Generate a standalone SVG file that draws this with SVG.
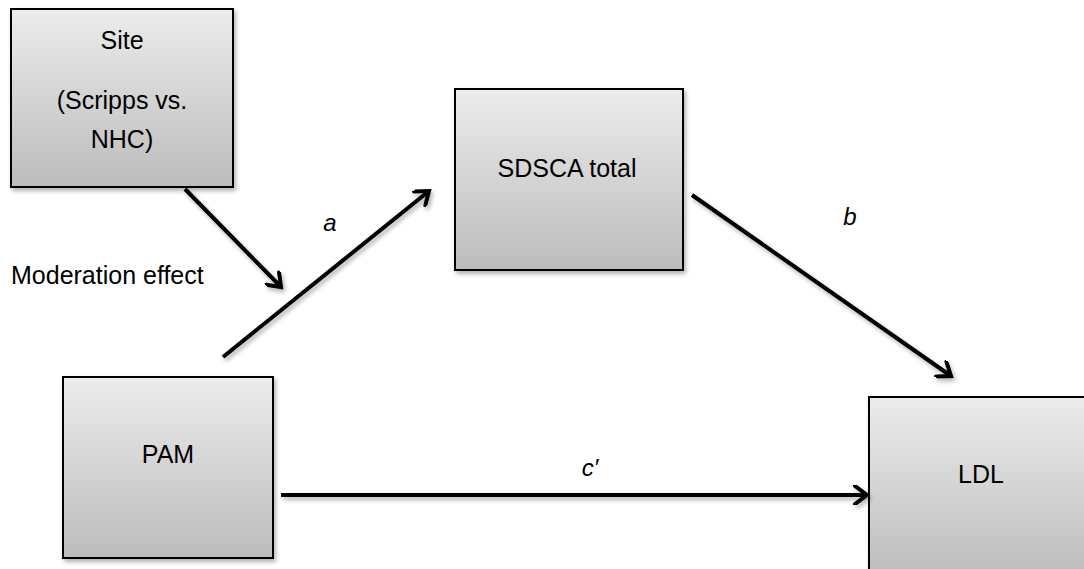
<svg xmlns="http://www.w3.org/2000/svg" width="1084" height="569" viewBox="0 0 1084 569">
  <defs>
    <linearGradient id="boxGrad" x1="0" y1="0" x2="0" y2="1">
      <stop offset="0" stop-color="#ececec"/>
      <stop offset="1" stop-color="#bcbcbc"/>
    </linearGradient>
    <filter id="shadow" filterUnits="userSpaceOnUse" x="0" y="0" width="1084" height="569">
      <feDropShadow dx="2" dy="3" stdDeviation="2" flood-color="#000" flood-opacity="0.3"/>
    </filter>
    <marker id="arrow" viewBox="0 0 20 20" refX="17" refY="10" markerWidth="20" markerHeight="20" markerUnits="userSpaceOnUse" orient="auto">
      <path d="M5,1 L17,10 L5,19" fill="none" stroke="#000" stroke-width="4" stroke-linecap="round" stroke-linejoin="miter"/>
    </marker>
  </defs>
  <style>
    .box { fill: url(#boxGrad); stroke: #000; stroke-width: 2; filter: url(#shadow); }
    .lbl { font-family: "Liberation Sans", Arial, sans-serif; font-size: 25px; fill: #000; text-anchor: middle; }
    .it { font-family: "Liberation Sans", Arial, sans-serif; font-size: 24px; font-style: italic; fill: #000; text-anchor: middle; }
    .conn { stroke: #000; stroke-width: 4; fill: none; marker-end: url(#arrow); filter: url(#shadow); }
  </style>
  <rect width="1084" height="569" fill="#fff"/>

  <g id="node-site">
    <rect class="box" x="11" y="9" width="222" height="178"/>
    <text class="lbl" x="122" y="49">Site</text>
    <text class="lbl" x="122" y="109">(Scripps vs.</text>
    <text class="lbl" x="122" y="148">NHC)</text>
  </g>

  <g id="node-sdsca">
    <rect class="box" x="455" y="89" width="228" height="181"/>
    <text class="lbl" x="567" y="177">SDSCA total</text>
  </g>

  <g id="node-pam">
    <rect class="box" x="63" y="377" width="210" height="181"/>
    <text class="lbl" x="168" y="463">PAM</text>
  </g>

  <g id="node-ldl">
    <rect class="box" x="869" y="397" width="224" height="181"/>
    <text class="lbl" x="981" y="483">LDL</text>
  </g>

  <g id="connectors">
    <line class="conn" x1="185" y1="189" x2="281" y2="287"/>
    <line class="conn" x1="223" y1="357" x2="429" y2="191"/>
    <line class="conn" x1="692" y1="195" x2="951" y2="376"/>
    <line class="conn" x1="281" y1="495" x2="867" y2="495"/>
  </g>

  <g id="labels">
    <text x="11" y="284" style="font-family: 'Liberation Sans', Arial, sans-serif; font-size: 25px;">Moderation effect</text>
    <text class="it" x="330" y="231">a</text>
    <text class="it" x="850" y="225">b</text>
    <text class="it" x="590" y="476">c′</text>
  </g>
</svg>
